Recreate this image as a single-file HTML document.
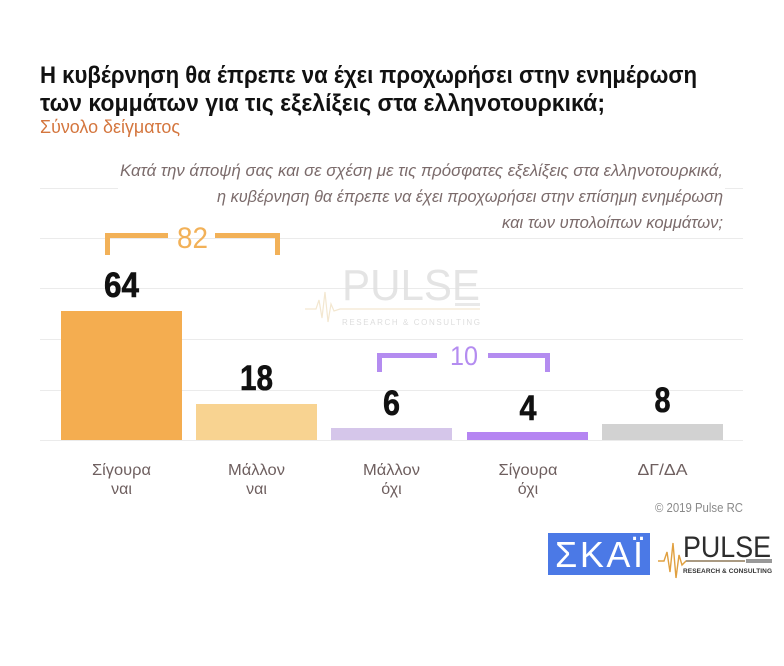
<!DOCTYPE html>
<html>
<head>
<meta charset="utf-8">
<style>
html,body{margin:0;padding:0;background:#fff;}
svg{display:block;}
text{font-family:"Liberation Sans","DejaVu Sans",sans-serif;}
</style>
</head>
<body>
<svg width="784" height="666" viewBox="0 0 784 666" xmlns="http://www.w3.org/2000/svg">
<rect x="0" y="0" width="784" height="666" fill="#fff"/>

<!-- gridlines -->
<g stroke="#ebebeb" stroke-width="1">
<line x1="40" y1="188.5" x2="743" y2="188.5"/>
<line x1="40" y1="238.5" x2="743" y2="238.5"/>
<line x1="40" y1="288.5" x2="743" y2="288.5"/>
<line x1="40" y1="339.5" x2="743" y2="339.5"/>
<line x1="40" y1="390.5" x2="743" y2="390.5"/>
<line x1="40" y1="440.5" x2="743" y2="440.5"/>
</g>

<!-- title -->
<text x="40" y="83" font-size="24" font-weight="bold" fill="#111" textLength="657" lengthAdjust="spacingAndGlyphs">Η κυβέρνηση θα έπρεπε να έχει προχωρήσει στην  ενημέρωση</text>
<text x="40" y="111" font-size="24" font-weight="bold" fill="#111" textLength="565" lengthAdjust="spacingAndGlyphs">των κομμάτων για τις εξελίξεις στα ελληνοτουρκικά;</text>
<text x="40" y="133" font-size="18" fill="#d4763e" textLength="140" lengthAdjust="spacingAndGlyphs">Σύνολο δείγματος</text>

<!-- subtitle box -->
<rect x="118" y="156" width="607" height="78" fill="#fff"/>
<g font-size="17" font-style="italic" fill="#7b6b6b" text-anchor="end">
<text x="723" y="176" textLength="603" lengthAdjust="spacingAndGlyphs">Κατά την άποψή σας και σε σχέση με τις πρόσφατες εξελίξεις στα ελληνοτουρκικά,</text>
<text x="723" y="202" textLength="506" lengthAdjust="spacingAndGlyphs">η κυβέρνηση θα έπρεπε να έχει προχωρήσει στην επίσημη ενημέρωση</text>
<text x="723" y="228" textLength="221" lengthAdjust="spacingAndGlyphs">και των υπολοίπων κομμάτων;</text>
</g>

<!-- watermark -->
<g opacity="0.85">
<text x="342" y="300" font-size="44" fill="#e0e0e0" textLength="138" lengthAdjust="spacingAndGlyphs">PULSE</text>
<polyline points="305,309 316,309 319,300 322,318 325,292 328,322 331,304 334,311 340,309 480,309" fill="none" stroke="#f1e3c8" stroke-width="1.2"/>
<rect x="455" y="303" width="25" height="3" fill="#e6e6e6"/>
<text x="342" y="325" font-size="8" fill="#d8d8d8" textLength="138" lengthAdjust="spacing">RESEARCH &amp; CONSULTING</text>
</g>

<!-- brackets -->
<g fill="#f2b158">
<rect x="105" y="233" width="63" height="5"/>
<rect x="105" y="233" width="5" height="22"/>
<rect x="215" y="233" width="65" height="5"/>
<rect x="275" y="233" width="5" height="22"/>
</g>
<text x="192.5" y="248" font-size="30" fill="#f2b158" text-anchor="middle" textLength="31" lengthAdjust="spacingAndGlyphs">82</text>

<g fill="#b48cf0">
<rect x="377" y="353" width="60" height="5"/>
<rect x="377" y="353" width="5" height="19"/>
<rect x="488" y="353" width="62" height="5"/>
<rect x="545" y="353" width="5" height="19"/>
</g>
<text x="464" y="365" font-size="27" fill="#b48cf0" text-anchor="middle" textLength="28" lengthAdjust="spacingAndGlyphs">10</text>

<!-- bars -->
<rect x="61" y="311" width="121" height="129" fill="#f4ad50"/>
<rect x="196" y="404" width="121" height="36" fill="#f8d391"/>
<rect x="331" y="428" width="121" height="12" fill="#d5c6ea"/>
<rect x="467" y="432" width="121" height="8" fill="#b585f2"/>
<rect x="602" y="424" width="121" height="16" fill="#d2d2d2"/>

<!-- value labels -->
<g font-size="35" font-weight="bold" fill="#111" stroke="#111" stroke-width="0.6" text-anchor="middle">
<text x="121.5" y="297" textLength="35" lengthAdjust="spacingAndGlyphs">64</text>
<text x="256.5" y="390" textLength="33" lengthAdjust="spacingAndGlyphs">18</text>
<text x="391.5" y="415" textLength="17" lengthAdjust="spacingAndGlyphs">6</text>
<text x="528" y="420" textLength="17" lengthAdjust="spacingAndGlyphs">4</text>
<text x="662.5" y="412" textLength="16" lengthAdjust="spacingAndGlyphs">8</text>
</g>

<!-- category labels -->
<g font-size="16" fill="#6e5f5f" text-anchor="middle">
<text x="121.5" y="475" textLength="59" lengthAdjust="spacingAndGlyphs">Σίγουρα</text>
<text x="121.5" y="494">ναι</text>
<text x="256.5" y="475" textLength="57" lengthAdjust="spacingAndGlyphs">Μάλλον</text>
<text x="256.5" y="494">ναι</text>
<text x="391.5" y="475" textLength="57" lengthAdjust="spacingAndGlyphs">Μάλλον</text>
<text x="391.5" y="494">όχι</text>
<text x="528" y="475" textLength="59" lengthAdjust="spacingAndGlyphs">Σίγουρα</text>
<text x="528" y="494">όχι</text>
<text x="662.5" y="475" textLength="50" lengthAdjust="spacingAndGlyphs">ΔΓ/ΔΑ</text>
</g>

<!-- copyright -->
<text x="743" y="512" font-size="13" fill="#8a8a8a" text-anchor="end" textLength="88" lengthAdjust="spacingAndGlyphs">© 2019 Pulse RC</text>

<!-- SKAI logo -->
<rect x="548" y="533" width="102" height="42" fill="#4b79e6"/>
<text x="599" y="567" font-size="36" fill="#fff" text-anchor="middle" textLength="88" lengthAdjust="spacing">ΣΚΑΪ</text>

<!-- Pulse logo -->
<text x="683" y="557" font-size="30" fill="#2d2d2d" textLength="88" lengthAdjust="spacingAndGlyphs">PULSE</text>
<polyline points="658,561 664,561 667,552 670,572 673,543 676,578 679,555 682,565 686,561 745,561" fill="none" stroke="#e0a040" stroke-width="1.4"/>
<line x1="686" y1="561" x2="745" y2="561" stroke="#666" stroke-width="1"/>
<rect x="746" y="559" width="26" height="4" fill="#999"/>
<text x="683" y="573" font-size="6.5" font-weight="bold" fill="#333" textLength="89" lengthAdjust="spacing">RESEARCH &amp; CONSULTING</text>
</svg>
</body>
</html>
